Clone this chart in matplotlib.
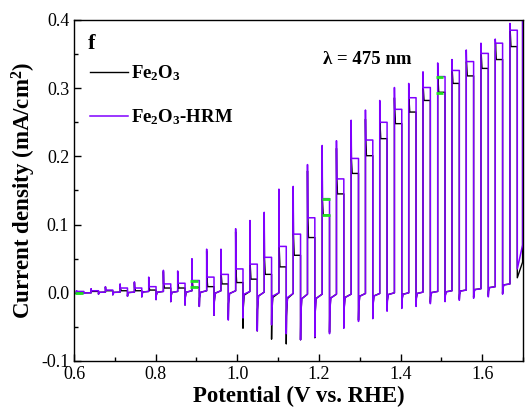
import numpy as np
import matplotlib
matplotlib.use("Agg")
import matplotlib.pyplot as plt
from matplotlib.ticker import MultipleLocator

# chopped-light LSV, values read per light cycle
light_on = [0.606, 0.642, 0.677, 0.713, 0.748, 0.783, 0.819, 0.854, 0.889, 0.925,
            0.960, 0.996, 1.031, 1.066, 1.102, 1.137, 1.172, 1.208, 1.243, 1.279,
            1.314, 1.349, 1.385, 1.420, 1.455, 1.491, 1.526, 1.561, 1.597, 1.632, 1.668]
dark = [0.000, 0.000, 0.001, 0.001, 0.001, 0.002, 0.002, 0.002, 0.003, 0.003,
        0.003, 0.003, 0.002, 0.001, 0.000, -0.001, -0.002, -0.002, -0.002, -0.002,
        -0.001, -0.001, 0.000, 0.000, 0.001, 0.002, 0.003, 0.004, 0.006, 0.009, 0.013]

hrm_spike = [0.003, 0.006, 0.009, 0.013, 0.016, 0.023, 0.033, 0.032, 0.050, 0.064,
             0.064, 0.094, 0.106, 0.118, 0.152, 0.156, 0.188, 0.216, 0.223, 0.253,
             0.268, 0.282, 0.301, 0.307, 0.324, 0.337, 0.342, 0.356, 0.366, 0.372, 0.395]
hrm_light = [0.002, 0.003, 0.004, 0.007, 0.007, 0.009, 0.013, 0.014, 0.018, 0.023,
             0.027, 0.035, 0.042, 0.052, 0.068, 0.086, 0.110, 0.138, 0.167, 0.197,
             0.224, 0.250, 0.269, 0.286, 0.301, 0.317, 0.326, 0.339, 0.351, 0.366, 0.385]
hrm_dip = [-0.001, -0.002, -0.003, -0.005, -0.006, -0.010, -0.013, -0.018, -0.020, -0.033,
           -0.040, -0.037, -0.056, -0.047, -0.060, -0.069, -0.065, -0.060, -0.052, -0.042,
           -0.038, -0.027, -0.023, -0.020, -0.016, -0.013, -0.011, -0.008, -0.006, -0.002, 0.035]

fe_light = [0.001, 0.002, 0.003, 0.003, 0.003, 0.004, 0.007, 0.007, 0.008, 0.009,
            0.013, 0.015, 0.020, 0.027, 0.038, 0.055, 0.081, 0.114, 0.145, 0.175,
            0.201, 0.226, 0.248, 0.265, 0.282, 0.294, 0.307, 0.318, 0.329, 0.342, 0.361]
fe_dip = [-0.001, -0.002, -0.003, -0.005, -0.006, -0.010, -0.013, -0.018, -0.020, -0.033,
          -0.038, -0.052, -0.056, -0.068, -0.075, -0.069, -0.066, -0.058, -0.050, -0.040,
          -0.036, -0.025, -0.021, -0.018, -0.014, -0.011, -0.009, -0.006, -0.004, -0.001, 0.022]

# dark current rise at the end of the scan, and the last light-on edge
end_potential = 1.699
hrm_end = 0.070
fe_end = 0.045

# green markers (potential range, current)
marker_x = [(0.603, 0.622), (0.884, 0.903), (1.207, 1.226), (1.207, 1.226),
            (0.884, 0.903), (1.488, 1.503), (1.488, 1.503)]
marker_y = [0.000, 0.018, 0.138, 0.114, 0.008, 0.317, 0.293]

PULSE = 0.018


def build_trace(light, dip, spike, end_val, lead=None):
    xs, ys = [0.6], [dark[0]]
    n = len(light_on)
    for i in range(n):
        on = light_on[i]
        off = on + PULSE
        xs += [on, on]
        ys += [dark[i], spike[i]]
        if lead is not None:
            xs += [on + 0.0006, on + 0.0025]
            ys += [lead[i], light[i]]
        else:
            xs += [on + 0.0006]
            ys += [light[i]]
        xs += [off, off]
        ys += [light[i], dip[i]]
        if i < n - 1:
            d = dark[i + 1]
            xs += [off + 0.0007, off + 0.003, light_on[i + 1]]
            ys += [d + 0.45 * (dip[i] - d), d + 0.1 * (dip[i] - d), d]
        else:
            xs += [end_potential, end_potential]
            ys += [end_val, 0.45]
    return xs, ys


plt.rcParams['font.family'] = ['Liberation Serif', 'DejaVu Serif']
plt.rcParams['mathtext.fontset'] = 'custom'
plt.rcParams['mathtext.rm'] = 'Liberation Serif:bold'
plt.rcParams['mathtext.default'] = 'rm'
plt.rcParams['axes.unicode_minus'] = False

fig = plt.figure(figsize=(5.26, 4.12), dpi=100)
ax = fig.add_axes([0.1407, 0.1238, 0.8536, 0.8277])

fe_spike = [v * 0.95 for v in hrm_spike]
bx, by = build_trace(fe_light, fe_dip, fe_spike, fe_end, lead=hrm_light)
px, py = build_trace(hrm_light, hrm_dip, hrm_spike, hrm_end)

ax.plot(bx, by, color='black', lw=1.0, label='Fe$_2$O$_3$')
ax.plot(px, py, color='#8000ff', lw=1.1, label='Fe$_2$O$_3$-HRM')

for (x0, x1), y in zip(marker_x, marker_y):
    ax.plot([x0, x1], [y, y], color='#22e022', lw=2.0, solid_capstyle='butt', zorder=5)

ax.set_xlim(0.6, 1.7)
ax.set_ylim(-0.1, 0.4)
ax.xaxis.set_major_locator(MultipleLocator(0.2))
ax.xaxis.set_minor_locator(MultipleLocator(0.1))
ax.yaxis.set_major_locator(MultipleLocator(0.1))
ax.yaxis.set_minor_locator(MultipleLocator(0.05))
ax.tick_params(which='both', direction='in', top=False, right=False, labelsize=13, width=1.0)
ax.tick_params(which='major', length=5)
ax.tick_params(which='minor', length=3)
ax.xaxis.set_major_formatter(plt.FuncFormatter(lambda v, p: f"{v:.1f}"))
ax.yaxis.set_major_formatter(plt.FuncFormatter(lambda v, p: f"{v:.1f}"))
for s in ax.spines.values():
    s.set_linewidth(1.0)

ax.set_xlabel('Potential (V vs. RHE)', fontsize=16.5, fontweight='bold', labelpad=2)
ax.set_ylabel('Current density (mA/cm$^2$)', fontsize=16.5, fontweight='bold', labelpad=2)

ax.legend(loc='upper left', bbox_to_anchor=(0.015, 0.90), frameon=False,
          prop={'weight': 'bold', 'size': 13.5}, handlelength=2.0,
          handletextpad=0.2, labelspacing=1.3, borderpad=0)
ax.text(0.03, 0.93, 'f', transform=ax.transAxes, fontsize=16, fontweight='bold',
        ha='left', va='center')
ax.text(0.653, 0.883, 'λ = 475 nm', transform=ax.transAxes, fontsize=13.5,
        fontweight='bold', ha='center', va='center')

fig.savefig('out.png', dpi=100)
